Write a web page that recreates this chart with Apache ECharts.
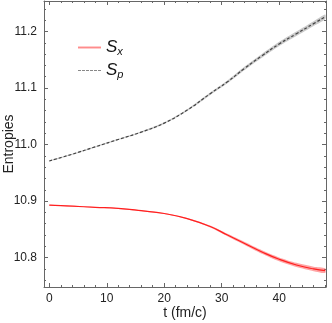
<!DOCTYPE html>
<html>
<head>
<meta charset="utf-8">
<script src="https://cdn.jsdelivr.net/npm/echarts@6/dist/echarts.min.js"></script>
<style>
  html, body { margin: 0; padding: 0; background: #fff; }
  #main { width: 332px; height: 323px; }
</style>
</head>
<body>
<div id="main"></div>
<script>
// time grid (fm/c)
const times = [0, 4, 8, 12, 16, 20, 24, 28, 31, 34, 37, 40, 43, 46, 48]
// entropies
const sx = [10.893, 10.891, 10.889, 10.887, 10.883, 10.878, 10.869, 10.855, 10.840, 10.825, 10.810, 10.797, 10.787, 10.780, 10.777]
const sp = [10.971, 10.983, 10.996, 11.009, 11.022, 11.038, 11.061, 11.090, 11.111, 11.135, 11.157, 11.178, 11.196, 11.214, 11.226]
// half width of the shaded bands
const sxErr = [0.0006, 0.0006, 0.0007, 0.0008, 0.0009, 0.0010, 0.0012, 0.0016, 0.0020, 0.0025, 0.0030, 0.0034, 0.0037, 0.0040, 0.0041]
const spErr = [0.0008, 0.0009, 0.0010, 0.0011, 0.0012, 0.0014, 0.0017, 0.0021, 0.0025, 0.0030, 0.0034, 0.0037, 0.0040, 0.0042, 0.0043]
// ticks
const xMajor = [0, 10, 20, 30, 40]
const xMinor = [2, 4, 6, 8, 12, 14, 16, 18, 22, 24, 26, 28, 32, 34, 36, 38, 42, 44, 46, 48]
const yMajor = [10.8, 10.9, 11.0, 11.1, 11.2]
const yMinor = [10.76, 10.78, 10.82, 10.84, 10.86, 10.88, 10.92, 10.94, 10.96, 10.98, 11.02, 11.04, 11.06, 11.08, 11.12, 11.14, 11.16, 11.18, 11.22, 11.24]

const X_MIN = -0.92, X_MAX = 48.15
const Y_MIN = 10.748, Y_MAX = 11.254
const FONT = 'Liberation Sans, Arial, sans-serif'
const AXIS_COLOR = '#666'

const pairs = (vals) => times.map((t, i) => [t, vals[i]])

// one axis = one side of the frame, major or minor ticks
const makeAxis = (kind, position, values, len, labels, line) => ({
    type: 'value',
    position: position,
    min: kind === 'x' ? X_MIN : Y_MIN,
    max: kind === 'x' ? X_MAX : Y_MAX,
    splitLine: { show: false },
    axisLine: { show: line, onZero: false, lineStyle: { color: AXIS_COLOR, width: 1 } },
    axisTick: {
        show: true,
        inside: true,
        length: len,
        customValues: values,
        lineStyle: { color: AXIS_COLOR, width: 1 }
    },
    axisLabel: {
        show: labels,
        customValues: values,
        color: '#222',
        fontSize: 12,
        fontFamily: FONT,
        margin: kind === 'x' ? 6 : 7,
        formatter: (v) => kind === 'x' ? String(Math.round(v)) : v.toFixed(1)
    }
})

// shaded band: polygon through the library's own coordinate mapping
const bandSeries = (center, err, color) => ({
    type: 'custom',
    silent: true,
    clip: true,
    data: [0],
    renderItem: (params, api) => {
        const upper = times.map((t, i) => api.coord([t, center[i] + err[i]]))
        const lower = times.map((t, i) => api.coord([t, center[i] - err[i]])).reverse()
        return {
            type: 'polygon',
            shape: { points: upper.concat(lower), smooth: 0.25 },
            style: { fill: color, stroke: null }
        }
    }
})

const chart = echarts.init(document.getElementById('main'))
chart.setOption({
    animation: false,
    grid: { left: 44, right: 6, top: 1, bottom: 36, outerBoundsMode: 'none', containLabel: false },
    legend: {
        data: [
            { name: 'Sx', icon: 'path://M0,0H24V2H0Z', itemStyle: { color: 'rgb(255,140,140)' } },
            { name: 'Sp', icon: 'path://M0,0H3V1H0Z M4,0H7V1H4Z M8,0H11V1H8Z M12,0H15V1H12Z M16,0H19V1H16Z M20,0H23V1H20Z', itemStyle: { color: '#888' } }
        ],
        orient: 'vertical',
        left: 78,
        top: 38,
        padding: 0,
        itemWidth: 23,
        itemHeight: 2,
        itemGap: 4,
        formatter: (name) => name === 'Sx' ? '{s|S}{sub|x}' : '{s|S}{sub|p}',
        textStyle: {
            rich: {
                s: { fontSize: 17, lineHeight: 18, fontStyle: 'italic', fontFamily: FONT, color: '#111' },
                sub: { fontSize: 11, lineHeight: 18, fontStyle: 'italic', fontFamily: FONT, color: '#111', padding: [8, 0, 0, 0] }
            }
        }
    },
    xAxis: [
        Object.assign(makeAxis('x', 'bottom', xMajor, 4, true, true), {
            name: 't (fm/c)',
            nameLocation: 'middle',
            nameGap: 19,
            nameMoveOverlap: false,
            nameTextStyle: { fontSize: 14, fontFamily: FONT, color: '#222' }
        }),
        makeAxis('x', 'bottom', xMinor, 2, false, false),
        makeAxis('x', 'top', xMajor, 4, false, true),
        makeAxis('x', 'top', xMinor, 2, false, false)
    ],
    yAxis: [
        Object.assign(makeAxis('y', 'left', yMajor, 4, true, true), {
            name: 'Entropies',
            nameLocation: 'middle',
            nameGap: 28,
            nameMoveOverlap: false,
            nameTextStyle: { fontSize: 14, fontFamily: FONT, color: '#222' }
        }),
        makeAxis('y', 'left', yMinor, 2, false, false),
        makeAxis('y', 'right', yMajor, 4, false, true),
        makeAxis('y', 'right', yMinor, 2, false, false)
    ],
    series: [
        bandSeries(sp, spErr, 'rgba(150,150,150,0.5)'),
        bandSeries(sx, sxErr, 'rgba(255,90,90,0.55)'),
        {
            name: 'Sx',
            type: 'line',
            smooth: true,
            symbol: 'none',
            itemStyle: { color: '#ff2020' },
            lineStyle: { color: '#ff2020', width: 1.2 },
            data: pairs(sx)
        },
        {
            name: 'Sp',
            type: 'line',
            smooth: true,
            symbol: 'none',
            itemStyle: { color: '#555' },
            lineStyle: { color: '#444', width: 1.2, type: [3, 2] },
            data: pairs(sp)
        }
    ]
})
</script>
</body>
</html>
